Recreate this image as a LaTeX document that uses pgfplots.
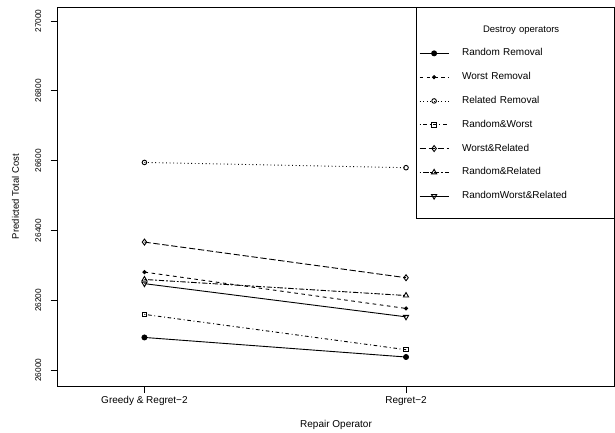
\documentclass[border=0pt]{standalone}
\usepackage{fontspec}
\setmainfont{Liberation Sans}
\usepackage{pgfplots}
\pgfplotsset{compat=1.18}
\begin{document}
\begin{tikzpicture}
\begin{axis}[
  at={(57.6pt,46pt)}, anchor=south west,
  scale only axis, width=556.9pt, height=379pt,
  xmin=0.668, xmax=2.797, ymin=25955, ymax=27040,
  xtick={1,2}, xticklabels={Greedy \& Regret−2, Regret−2},
  ytick={26000,26200,26400,26600,26800,27000},
  scaled y ticks=false,
  xtick pos=left, ytick pos=left,
  tick align=outside, major tick length=7pt,
  tick style={black, line width=0.9pt},
  axis line style={black, line width=0.9pt},
  /pgf/number format/assume math mode=true,
  /pgf/number format/1000 sep={},
  yticklabel style={rotate=90, anchor=south, inner sep=0pt, font=\fontsize{8.3}{9}\selectfont},
  xticklabel style={anchor=north, inner sep=0pt, font=\fontsize{10}{12}\selectfont},
  yticklabel shift=9.2pt,
  xticklabel shift=3.5pt,
  xlabel={Repair Operator}, ylabel={Predicted Total Cost},
  every axis x label/.style={at={(axis description cs:0.5,-0.0897)}, anchor=north, inner sep=0pt, font=\fontsize{10}{12}\selectfont},
  every axis y label/.style={at={(axis description cs:-0.0688,0.5)}, rotate=90, anchor=south, inner sep=0pt, font=\fontsize{9.5}{11}\selectfont},
  every axis plot/.append style={black, line width=0.9pt},
  legend style={at={(1,1)}, anchor=north east, draw=black, line width=0.9pt,
    inner xsep=3pt, inner ysep=17.5pt, row sep=14.6pt, column sep=13pt,
    nodes={inner sep=0pt, text height=7.2pt, text depth=2pt, text width=149pt, align=left, font=\fontsize{10}{12}\selectfont},
    cells={anchor=west}},
  legend image code/.code={\draw[mark repeat=2,mark phase=2,#1] plot coordinates {(0pt,0pt) (14.5pt,0pt) (29pt,0pt)};},
]
\addlegendimage{empty legend}
\addlegendentry{\hspace*{21pt}\fontsize{9.5}{11}\selectfont Destroy operators}
\addplot[solid, mark=*, mark size=2.5pt, mark options={solid}] coordinates {(1,26094) (2,26038)};
\addlegendentry{Random Removal}
\addplot[dash pattern=on 3.6pt off 3.6pt, mark=*, mark size=1.6pt, mark options={solid}] coordinates {(1,26281) (2,26177)};
\addlegendentry{Worst Removal}
\addplot[dash pattern=on 0.9pt off 2.7pt, mark=o, mark size=2.3pt, mark options={solid}] coordinates {(1,26595) (2,26580)};
\addlegendentry{Related Removal}
\addplot[dash pattern=on 0.9pt off 2.7pt on 3.6pt off 2.7pt, mark=square, mark size=2.2pt, mark options={solid}] coordinates {(1,26160) (2,26059)};
\addlegendentry{Random\&Worst}
\addplot[dash pattern=on 6.3pt off 2.7pt, mark=diamond, mark size=3pt, mark options={solid}] coordinates {(1,26367) (2,26265)};
\addlegendentry{Worst\&Related}
\addplot[dash pattern=on 1.8pt off 1.8pt on 5.4pt off 1.8pt, mark=triangle, mark size=3pt, mark options={solid}] coordinates {(1,26260) (2,26214)};
\addlegendentry{Random\&Related}
\addplot[solid, mark=triangle, mark size=3pt, mark options={solid, rotate=180}] coordinates {(1,26248) (2,26153)};
\addlegendentry{RandomWorst\&Related}
\end{axis}
\pgfresetboundingbox
\useasboundingbox (0,0) rectangle (615pt,432pt);
\end{tikzpicture}
\end{document}
